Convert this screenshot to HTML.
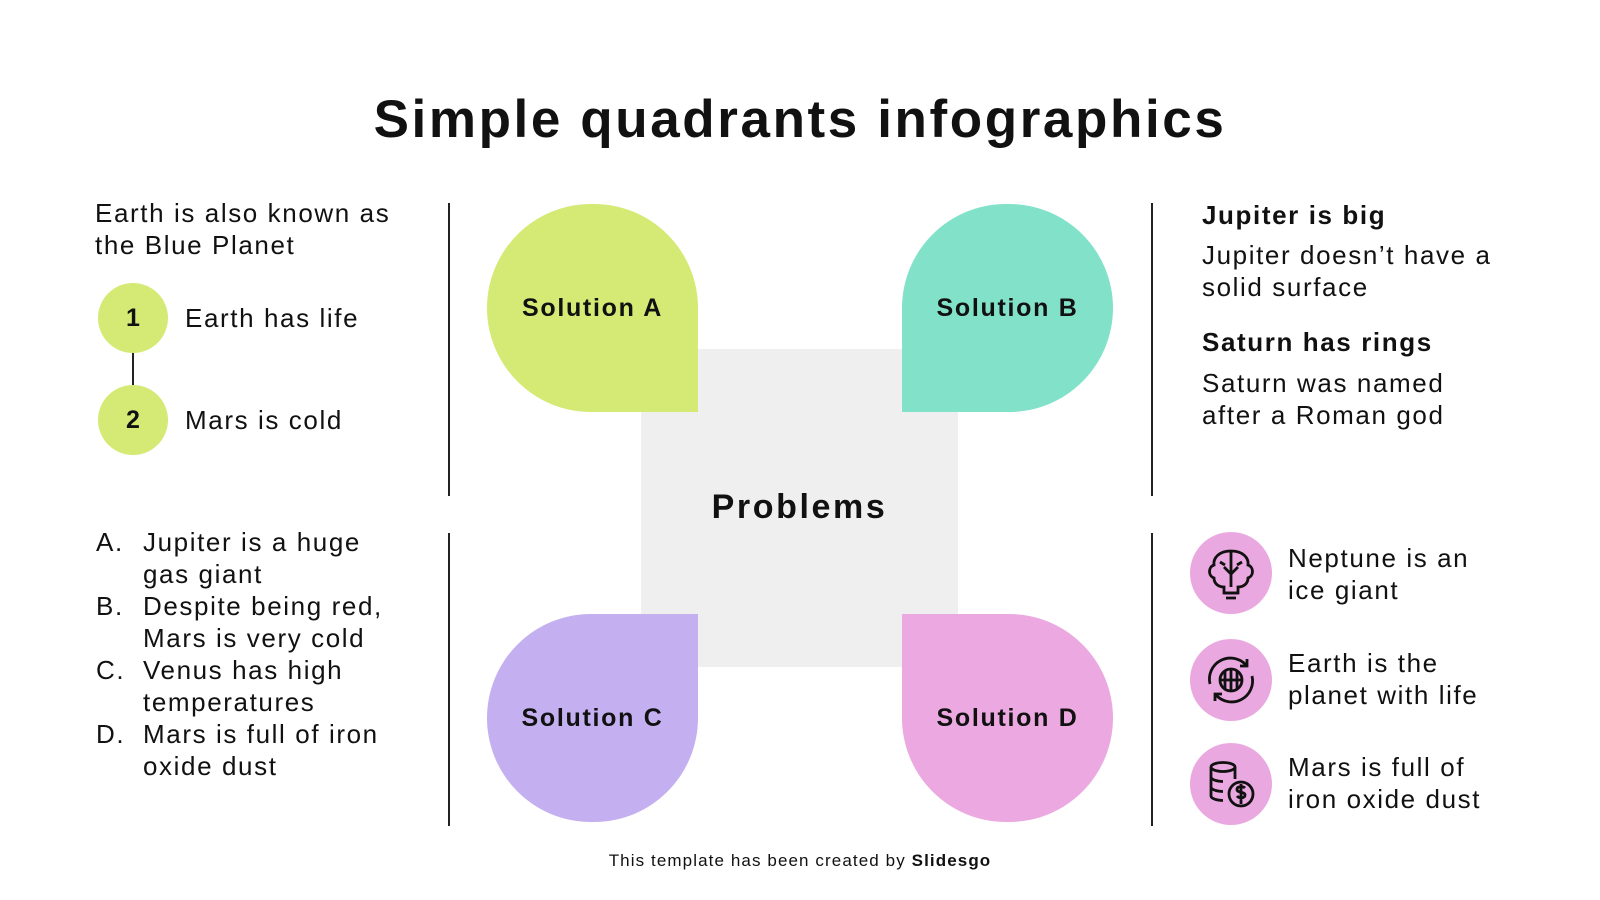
<!DOCTYPE html>
<html><head><meta charset="utf-8"><style>
*{margin:0;padding:0;box-sizing:border-box}
body{width:1600px;height:900px;background:#fff;position:relative;overflow:hidden;font-family:"Liberation Sans",sans-serif;color:#111}
.a{position:absolute;white-space:nowrap}
.t{font-size:26px;line-height:32px;letter-spacing:1.6px}
.b{font-weight:bold}
.drop{position:absolute;width:211px;height:208px;display:flex;align-items:center;justify-content:center;font-size:25px;font-weight:bold;letter-spacing:1.7px}
.vl{position:absolute;width:2px;background:#222}
.ic{position:absolute;width:82px;height:82px;border-radius:50%;background:#eaa8e0}
.num{position:absolute;width:70px;height:70px;border-radius:50%;background:#d4ea74;font-size:25px;font-weight:bold;display:flex;align-items:center;justify-content:center}
</style></head><body>
<div class="a b" style="left:0;width:1600px;text-align:center;top:88px;font-size:53px;line-height:64px;letter-spacing:2.6px">Simple quadrants infographics</div>

<div class="a t" style="left:95px;top:197px">Earth is also known as<br>the Blue Planet</div>
<div class="a" style="left:132px;top:350px;width:2px;height:40px;background:#222"></div>
<div class="num" style="left:98px;top:283px">1</div>
<div class="num" style="left:98px;top:385px">2</div>
<div class="a t" style="left:185px;top:302px">Earth has life</div>
<div class="a t" style="left:185px;top:404px">Mars is cold</div>

<div class="a t" style="left:96px;top:526px">A.<br><br>B.<br><br>C.<br><br>D.</div>
<div class="a t" style="left:143px;top:526px">Jupiter is a huge<br>gas giant<br>Despite being red,<br>Mars is very cold<br>Venus has high<br>temperatures<br>Mars is full of iron<br>oxide dust</div>

<div class="vl" style="left:448px;top:203px;height:293px"></div>
<div class="vl" style="left:448px;top:533px;height:293px"></div>
<div class="vl" style="left:1151px;top:203px;height:293px"></div>
<div class="vl" style="left:1151px;top:533px;height:293px"></div>

<div class="a" style="left:641px;top:349px;width:317px;height:318px;background:#efefef"></div>
<div class="a" style="left:641px;top:488px;width:317px;text-align:center;font-size:34px;font-weight:bold;letter-spacing:2.6px">Problems</div>
<div class="drop" style="left:487px;top:204px;background:#d4ea74;border-radius:105px 105px 0 105px">Solution A</div>
<div class="drop" style="left:902px;top:204px;background:#82e1c9;border-radius:105px 105px 105px 0">Solution B</div>
<div class="drop" style="left:487px;top:614px;background:#c4b0f0;border-radius:105px 0 105px 105px">Solution C</div>
<div class="drop" style="left:902px;top:614px;background:#eca8e0;border-radius:0 105px 105px 105px">Solution D</div>

<div class="a t b" style="left:1202px;top:199px">Jupiter is big</div>
<div class="a t" style="left:1202px;top:239px">Jupiter doesn’t have a<br>solid surface</div>
<div class="a t b" style="left:1202px;top:326px">Saturn has rings</div>
<div class="a t" style="left:1202px;top:367px">Saturn was named<br>after a Roman god</div>

<div class="ic" style="left:1190px;top:532px"><svg width="82" height="82" viewBox="0 0 82 82" fill="none" stroke="#111" stroke-width="2.8"><path d="M41 19c-12 0-18 7-17 14-6 2-6 11 0 13 0 6 5 9 10 9v6h14v-6c5 0 10-3 10-9 6-2 6-11 0-13 1-7-5-14-17-14z"/><path d="M41 19v36M34 61h14M36 66h10M41 42l-7-7M41 42l7-7M30 30l5 3M52 30l-5 3"/></svg></div>
<div class="ic" style="left:1190px;top:639px"><svg width="82" height="82" viewBox="0 0 82 82" fill="none" stroke="#111" stroke-width="2.8"><circle cx="41" cy="41" r="11"/><path d="M30 41h22M41 30v22M35 32v18M47 32v18"/><path d="M20 45a21 21 0 0 1 36-19M62 37a21 21 0 0 1-36 19"/><path d="M57 20v7h-7M25 62v-7h7"/></svg></div>
<div class="ic" style="left:1190px;top:743px"><svg width="82" height="82" viewBox="0 0 82 82" fill="none" stroke="#111" stroke-width="2.8"><ellipse cx="33" cy="24" rx="12" ry="4.5"/><path d="M21 24v29c0 2.5 6 4.5 12 4.5M45 24v12M21 34c0 2.5 6 4.5 12 4.5M21 44c0 2.5 6 4.5 12 4.5"/><circle cx="51" cy="51" r="12"/><path d="M55 45c-2-2-8-2-8 1.5s8 2 8 5.5-6 3.5-8 1M51 41v20"/></svg></div>
<div class="a t" style="left:1288px;top:542px">Neptune is an<br>ice giant</div>
<div class="a t" style="left:1288px;top:647px">Earth is the<br>planet with life</div>
<div class="a t" style="left:1288px;top:751px">Mars is full of<br>iron oxide dust</div>

<div class="a" style="left:0;width:1600px;text-align:center;top:851px;font-size:17px;letter-spacing:1.1px">This template has been created by <b>Slidesgo</b></div>
</body></html>
